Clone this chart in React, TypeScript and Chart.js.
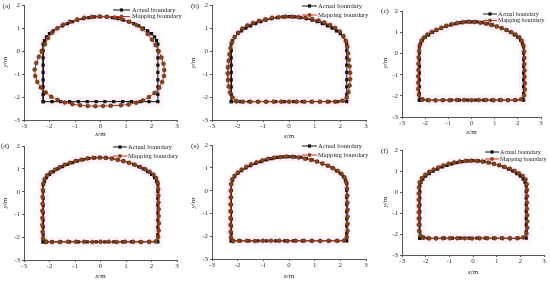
import React, { useEffect, useRef } from 'react';
import { Chart, registerables } from 'chart.js';
Chart.register(...registerables);

type Pt = [number, number];

const xTicks = [-3, -2, -1, 0, 1, 2, 3];
const yTicks = [-3, -2, -1, 0, 1, 2];
const seriesNames = ['Actual boundary', 'Mapping boundary'];

const actual: Pt[] = [
  [-2.25, -2.2], [-1.9, -2.2], [-1.56, -2.2], [-1.21, -2.2], [-0.87, -2.2], [-0.52, -2.2], [-0.17, -2.2],
  [0.17, -2.2], [0.52, -2.2], [0.87, -2.2], [1.21, -2.2], [1.56, -2.2], [1.9, -2.2], [2.25, -2.2],
  [2.25, -1.88], [2.25, -1.56], [2.25, -1.25], [2.25, -0.93], [2.25, -0.61], [2.25, -0.29], [2.25, 0.02], [2.25, 0.3],
  [2.2, 0.46], [2.12, 0.62], [2.0, 0.76], [1.85, 0.88], [1.68, 1.0], [1.5, 1.1], [1.3, 1.2], [1.1, 1.28],
  [0.9, 1.35], [0.68, 1.41], [0.46, 1.46], [0.23, 1.49], [0, 1.5], [-0.23, 1.49], [-0.46, 1.46], [-0.68, 1.41],
  [-0.9, 1.35], [-1.1, 1.28], [-1.3, 1.2], [-1.5, 1.1], [-1.68, 1.0], [-1.85, 0.88], [-2.0, 0.76], [-2.12, 0.62],
  [-2.2, 0.46], [-2.25, 0.3], [-2.25, 0.02], [-2.25, -0.29], [-2.25, -0.61], [-2.25, -0.93], [-2.25, -1.25],
  [-2.25, -1.56], [-2.25, -1.88], [-2.25, -2.2],
];

const mapA: Pt[] = [
  [-2.3, 0.0], [-2.42, -0.25], [-2.52, -0.52], [-2.58, -0.8], [-2.56, -1.08], [-2.48, -1.34], [-2.34, -1.58],
  [-2.15, -1.8], [-1.93, -1.99], [-1.68, -2.13], [-1.4, -2.24], [-1.1, -2.31], [-0.8, -2.36], [-0.5, -2.39],
  [-0.2, -2.4], [0.1, -2.39], [0.4, -2.38], [0.8, -2.36], [1.1, -2.32], [1.4, -2.25], [1.66, -2.15],
  [1.9, -2.0], [2.12, -1.82], [2.3, -1.6], [2.42, -1.35], [2.49, -1.08], [2.5, -0.82], [2.47, -0.55],
  [2.39, -0.28], [2.28, 0.0], [2.16, 0.27], [2.02, 0.5], [1.85, 0.75], [1.64, 0.96], [1.4, 1.14],
  [1.13, 1.28], [0.84, 1.39], [0.55, 1.46], [0.26, 1.5], [-0.04, 1.51], [-0.34, 1.49], [-0.63, 1.45],
  [-0.92, 1.38], [-1.2, 1.28], [-1.46, 1.15], [-1.7, 0.99], [-1.9, 0.8], [-2.06, 0.57], [-2.18, 0.3], [-2.3, 0.0],
];

const mapB: Pt[] = [
  [-2.05, -2.18], [-1.8, -2.2], [-1.5, -2.2], [-1.2, -2.2], [-0.9, -2.2], [-0.6, -2.2], [-0.3, -2.2], [0, -2.2],
  [0.3, -2.2], [0.6, -2.2], [0.9, -2.2], [1.2, -2.2], [1.5, -2.2], [1.8, -2.2], [2.08, -2.16],
  [2.25, -2.02], [2.32, -1.78], [2.36, -1.5], [2.38, -1.22], [2.38, -0.94], [2.36, -0.66], [2.33, -0.38],
  [2.3, -0.1], [2.27, 0.18], [2.22, 0.44],
  [2.12, 0.66], [1.98, 0.85], [1.8, 1.01], [1.6, 1.14], [1.38, 1.25], [1.15, 1.33], [0.9, 1.4], [0.64, 1.45],
  [0.38, 1.48], [0.12, 1.5], [-0.14, 1.5], [-0.4, 1.48], [-0.66, 1.45], [-0.92, 1.39], [-1.17, 1.32],
  [-1.4, 1.23], [-1.62, 1.12], [-1.82, 0.98], [-1.98, 0.8], [-2.12, 0.6], [-2.22, 0.38],
  [-2.28, 0.14], [-2.32, -0.14], [-2.35, -0.42], [-2.38, -0.7], [-2.39, -0.98], [-2.38, -1.26], [-2.35, -1.54],
  [-2.3, -1.8], [-2.2, -2.02], [-2.05, -2.18],
];

const mapC: Pt[] = [
  [-2.12, -2.17], [-1.85, -2.21], [-1.55, -2.22], [-1.25, -2.21], [-0.95, -2.21], [-0.63, -2.2], [-0.32, -2.2],
  [0, -2.21], [0.32, -2.2], [0.63, -2.2], [0.95, -2.21], [1.27, -2.2], [1.58, -2.21], [1.88, -2.2], [2.14, -2.16],
  [2.27, -1.98], [2.3, -1.7], [2.3, -1.4], [2.29, -1.1], [2.29, -0.8], [2.28, -0.5], [2.28, -0.2], [2.27, 0.1], [2.24, 0.38],
  [2.17, 0.6], [2.06, 0.77], [1.9, 0.9], [1.72, 1.01], [1.52, 1.11], [1.3, 1.2], [1.08, 1.28], [0.85, 1.35],
  [0.62, 1.41], [0.38, 1.46], [0.13, 1.49], [-0.12, 1.5], [-0.37, 1.48], [-0.61, 1.44], [-0.85, 1.38],
  [-1.08, 1.31], [-1.3, 1.22], [-1.52, 1.12], [-1.72, 1.02], [-1.9, 0.9], [-2.05, 0.76], [-2.16, 0.6], [-2.23, 0.4],
  [-2.26, 0.12], [-2.28, -0.18], [-2.29, -0.48], [-2.29, -0.78], [-2.3, -1.08], [-2.3, -1.38], [-2.3, -1.68],
  [-2.27, -1.96], [-2.12, -2.17],
];

const mapD: Pt[] = [
  [-2.13, -2.2], [-1.9, -2.21], [-1.6, -2.21], [-1.28, -2.2], [-0.96, -2.2], [-0.64, -2.2], [-0.32, -2.21],
  [0, -2.2], [0.32, -2.2], [0.64, -2.21], [0.96, -2.2], [1.28, -2.2], [1.6, -2.21], [1.92, -2.2], [2.16, -2.19],
  [2.26, -2.0], [2.28, -1.7], [2.29, -1.38], [2.28, -1.07], [2.28, -0.77], [2.27, -0.47], [2.27, -0.17], [2.26, 0.12], [2.24, 0.4],
  [2.18, 0.6], [2.08, 0.75], [1.93, 0.88], [1.76, 0.99], [1.56, 1.09], [1.35, 1.18], [1.13, 1.27], [0.9, 1.34],
  [0.67, 1.4], [0.44, 1.45], [0.2, 1.49], [-0.04, 1.5], [-0.28, 1.49], [-0.52, 1.46], [-0.75, 1.41],
  [-0.98, 1.35], [-1.2, 1.27], [-1.41, 1.18], [-1.6, 1.08], [-1.78, 0.97], [-1.95, 0.86], [-2.09, 0.72], [-2.19, 0.56],
  [-2.24, 0.36], [-2.26, 0.08], [-2.27, -0.22], [-2.27, -0.53], [-2.28, -0.84], [-2.28, -1.15], [-2.28, -1.46],
  [-2.27, -1.76], [-2.25, -2.06], [-2.13, -2.2],
];

const mapE: Pt[] = [
  [-2.18, -2.21], [-1.95, -2.2], [-1.64, -2.2], [-1.33, -2.21], [-1.02, -2.2], [-0.7, -2.2], [-0.38, -2.2],
  [-0.06, -2.21], [0.26, -2.2], [0.58, -2.2], [0.9, -2.2], [1.22, -2.21], [1.54, -2.2], [1.86, -2.2], [2.14, -2.19],
  [2.25, -2.04], [2.28, -1.76], [2.28, -1.45], [2.28, -1.14], [2.28, -0.83], [2.27, -0.52], [2.27, -0.21], [2.26, 0.1], [2.23, 0.38],
  [2.16, 0.58], [2.05, 0.74], [1.9, 0.87], [1.72, 0.99], [1.52, 1.1], [1.31, 1.19], [1.09, 1.28], [0.86, 1.35],
  [0.62, 1.41], [0.38, 1.46], [0.14, 1.49], [-0.1, 1.5], [-0.34, 1.48], [-0.58, 1.45], [-0.81, 1.4],
  [-1.04, 1.33], [-1.26, 1.25], [-1.47, 1.16], [-1.66, 1.05], [-1.84, 0.93], [-1.99, 0.8], [-2.12, 0.66], [-2.21, 0.5],
  [-2.25, 0.28], [-2.27, 0.0], [-2.27, -0.3], [-2.28, -0.6], [-2.28, -0.9], [-2.28, -1.2], [-2.28, -1.5],
  [-2.27, -1.8], [-2.26, -2.06], [-2.18, -2.21],
];

const mapF: Pt[] = [
  [-2.1, -2.17], [-1.85, -2.21], [-1.57, -2.21], [-1.27, -2.2], [-0.97, -2.2], [-0.66, -2.2], [-0.35, -2.2],
  [-0.04, -2.21], [0.28, -2.2], [0.6, -2.2], [0.92, -2.2], [1.24, -2.2], [1.56, -2.21], [1.87, -2.2], [2.12, -2.16],
  [2.26, -1.98], [2.29, -1.7], [2.29, -1.4], [2.29, -1.1], [2.28, -0.8], [2.28, -0.5], [2.28, -0.2], [2.28, 0.1], [2.27, 0.38],
  [2.22, 0.6], [2.1, 0.77], [1.94, 0.9], [1.76, 1.01], [1.56, 1.11], [1.34, 1.2], [1.11, 1.28], [0.88, 1.35],
  [0.64, 1.41], [0.4, 1.46], [0.16, 1.49], [-0.08, 1.5], [-0.32, 1.49], [-0.56, 1.46], [-0.8, 1.41],
  [-1.03, 1.35], [-1.25, 1.27], [-1.46, 1.18], [-1.66, 1.08], [-1.85, 0.97], [-2.02, 0.83], [-2.16, 0.67], [-2.25, 0.47],
  [-2.28, 0.22], [-2.29, -0.06], [-2.29, -0.36], [-2.29, -0.66], [-2.29, -0.96], [-2.29, -1.26], [-2.29, -1.56],
  [-2.28, -1.86], [-2.22, -2.08], [-2.1, -2.17],
];

const FONT = '"Liberation Serif", "Times New Roman", serif';

type PanelCfg = {
  label: string; map: Pt[];
  L: number; R: number; T: number; B: number;
  lab: [number, number]; xt: number; yt: [number, number];
  sx: number; sw: number; tx: number; y1: number; y2: number; lf: number;
};

const PANELS: PanelCfg[] = [
  { label: '(a)', map: mapA, L: 24, R: 177, T: 5, B: 120, lab: [6.5, 6], xt: 134, yt: [5, 62], sx: 113, sw: 17, tx: 132, y1: 10, y2: 16.5, lf: 6.5 },
  { label: '(b)', map: mapB, L: 212, R: 366, T: 5, B: 120, lab: [195, 6], xt: 136, yt: [193, 63], sx: 302, sw: 15, tx: 318, y1: 6, y2: 15, lf: 6.6 },
  { label: '(c)', map: mapC, L: 402, R: 541, T: 11, B: 117, lab: [385, 11], xt: 132, yt: [385, 63], sx: 483, sw: 14, tx: 498, y1: 14, y2: 20.5, lf: 6.1 },
  { label: '(d)', map: mapD, L: 24, R: 177, T: 146, B: 260, lab: [5, 146], xt: 276, yt: [5, 203], sx: 113, sw: 14, tx: 128, y1: 147, y2: 156, lf: 6.6 },
  { label: '(e)', map: mapE, L: 212, R: 366, T: 145, B: 259, lab: [195, 146], xt: 276, yt: [193, 203], sx: 302, sw: 15, tx: 318, y1: 146, y2: 155, lf: 6.6 },
  { label: '(f)', map: mapF, L: 402, R: 544, T: 150, B: 255, lab: [384.5, 151], xt: 272, yt: [385, 202], sx: 485, sw: 14, tx: 500, y1: 152, y2: 159, lf: 6.1 },
];

function drawMixed(g: CanvasRenderingContext2D, it: string, rest: string, cx: number, cy: number, size: number) {
  g.font = `italic ${size}px ${FONT}`;
  const w1 = g.measureText(it).width;
  g.font = `${size}px ${FONT}`;
  const w2 = g.measureText(rest).width;
  const x0 = cx - (w1 + w2) / 2;
  g.textAlign = 'left';
  g.textBaseline = 'middle';
  g.font = `italic ${size}px ${FONT}`;
  g.fillText(it, x0, cy);
  g.font = `${size}px ${FONT}`;
  g.fillText(rest, x0 + w1, cy);
}

const RED = '#d8281e';
const MK_FILL = '#85461c';
const MK_EDGE = '#4a2608';

function Panel({ p }: { p: PanelCfg }) {
  const ref = useRef<HTMLCanvasElement>(null);
  const cl = p.L - 24;
  const ct = p.T - 6;
  const w = p.R - p.L + 30;
  const h = p.B - p.T + 28;
  useEffect(() => {
    const canvas = ref.current!;
    const overlay = {
      id: 'overlay',
      afterDraw(chart: any) {
        const g: CanvasRenderingContext2D = chart.ctx;
        g.save();
        g.fillStyle = '#222';
        g.font = `7px ${FONT}`;
        g.textAlign = 'center';
        g.textBaseline = 'middle';
        g.fillText(p.label, p.lab[0] - cl, p.lab[1] - ct);
        drawMixed(g, 'x', '/m', (p.L + p.R) / 2 - cl, p.xt - ct, 7);
        g.save();
        g.translate(p.yt[0] - cl, p.yt[1] - ct);
        g.rotate(-Math.PI / 2);
        drawMixed(g, 'y', '/m', 0, 0, 7);
        g.restore();
        const rows = [
          { y: p.y1 - ct, color: '#111', name: seriesNames[0], square: true },
          { y: p.y2 - ct, color: RED, name: seriesNames[1], square: false },
        ];
        for (const r of rows) {
          const x0 = p.sx - cl;
          g.strokeStyle = r.color;
          g.lineWidth = 1;
          g.beginPath();
          g.moveTo(x0, r.y);
          g.lineTo(x0 + p.sw, r.y);
          g.stroke();
          const mx = x0 + p.sw / 2;
          if (r.square) {
            g.fillStyle = '#111';
            g.fillRect(mx - 1.6, r.y - 1.6, 3.2, 3.2);
          } else {
            g.fillStyle = MK_FILL;
            g.beginPath();
            g.arc(mx, r.y, 1.9, 0, Math.PI * 2);
            g.fill();
          }
          g.fillStyle = '#222';
          g.font = `${p.lf}px ${FONT}`;
          g.textAlign = 'left';
          g.textBaseline = 'middle';
          g.fillText(r.name, p.tx - cl, r.y);
        }
        g.restore();
      },
    };
    const tickFont = { family: FONT, size: 7 };
    const chart = new Chart(canvas, {
      type: 'scatter',
      data: {
        datasets: [
          {
            label: seriesNames[1],
            data: p.map.map(([x, y]) => ({ x, y })),
            showLine: true,
            borderColor: RED,
            borderWidth: 1,
            pointStyle: 'circle',
            pointRadius: 2,
            pointBackgroundColor: MK_FILL,
            pointBorderColor: MK_EDGE,
            pointBorderWidth: 0.5,
            order: 0,
          },
          {
            label: seriesNames[0],
            data: actual.map(([x, y]) => ({ x, y })),
            showLine: true,
            borderColor: '#111',
            borderWidth: 1,
            pointStyle: 'rect',
            pointRadius: 2.3,
            pointBackgroundColor: '#111',
            pointBorderColor: '#111',
            pointBorderWidth: 0,
            order: 1,
          },
          {
            label: 'band',
            data: actual.map(([x, y]) => ({ x, y })),
            showLine: true,
            borderColor: 'rgba(250,210,240,0.3)',
            borderWidth: 10,
            pointRadius: 0,
            order: 2,
          },
        ] as any,
      },
      options: {
        animation: false,
        responsive: false,
        devicePixelRatio: 1,
        events: [],
        layout: { padding: { left: 0, right: 6, top: 6, bottom: 0 } },
        plugins: { legend: { display: false }, tooltip: { enabled: false } },
        scales: {
          x: {
            type: 'linear', min: -3, max: 3,
            afterBuildTicks: (s: any) => { s.ticks = xTicks.map((v) => ({ value: v })); },
            afterFit: (s: any) => { s.height = 22; },
            ticks: { font: tickFont, color: '#333', padding: 0, maxRotation: 0, autoSkip: false },
            grid: { drawOnChartArea: false, tickLength: 2, color: '#555' },
            border: { color: '#555', width: 1 },
          },
          y: {
            type: 'linear', min: -3, max: 2,
            afterBuildTicks: (s: any) => { s.ticks = yTicks.map((v) => ({ value: v })); },
            afterFit: (s: any) => { s.width = 24; },
            ticks: { font: tickFont, color: '#333', padding: 2, autoSkip: false },
            grid: { drawOnChartArea: false, tickLength: 2, color: '#555' },
            border: { color: '#555', width: 1 },
          },
        },
      } as any,
      plugins: [overlay],
    });
    return () => chart.destroy();
  }, []);
  return (
    <canvas
      ref={ref}
      width={w}
      height={h}
      style={{ position: 'absolute', left: cl, top: ct, width: w, height: h }}
    />
  );
}

export default function App() {
  return (
    <div style={{ position: 'fixed', left: 0, top: 0, width: 550, height: 281, background: '#fff', overflow: 'hidden' }}>
      {PANELS.map((p) => (
        <Panel key={p.label} p={p} />
      ))}
    </div>
  );
}
